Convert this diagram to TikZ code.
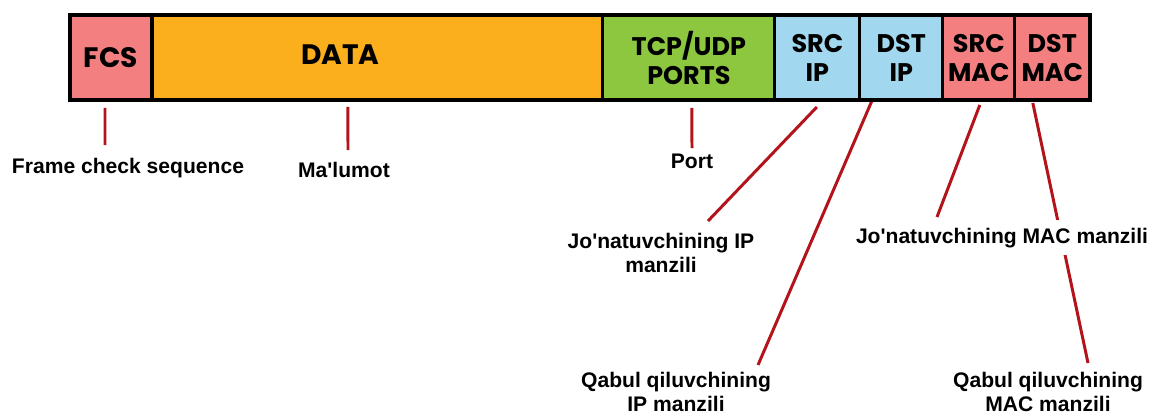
\documentclass[tikz,border=0pt]{standalone}
\usepackage[dvipsnames]{xcolor}
\usepackage{fontspec}
\setmainfont{Liberation Sans}
\newfontfamily\cellfont{Poppins}
\usepackage{tikz}
\usetikzlibrary{positioning,calc,backgrounds}

\definecolor{fcspink}{HTML}{F47F80}
\definecolor{dataorange}{HTML}{FBAF1C}
\definecolor{portgreen}{HTML}{8DC63F}
\definecolor{ipblue}{HTML}{A1D7EF}
\definecolor{wirered}{HTML}{B3141C}

\tikzset{
  fieldtxt/.style={font=\cellfont\bfseries\fontsize{14.5}{16.5}\selectfont},
  bigtxt/.style={font=\cellfont\bfseries\fontsize{16}{19}\selectfont},
  field/.style={draw=black, line width=1.8pt, minimum height=1.7cm,
    outer sep=0pt, inner sep=0pt, align=center, fieldtxt},
  desc/.style={anchor=base, align=center, inner sep=2pt,
    font=\bfseries\fontsize{12}{13.6}\selectfont},
  wire/.style={draw=wirered, line width=1.7pt}
}

\begin{document}
\begin{tikzpicture}[x=0.02cm, y=-0.02cm]
  \useasboundingbox (0,0) rectangle (1152,416);

  \node[field, bigtxt, fill=fcspink, minimum width=1.64cm, anchor=west] (fcs) at (70,57.5) {FCS};
  \node[field, fill=dataorange, minimum width=9.02cm, right=0pt of fcs,
    label={[name=datatxt, bigtxt, xshift=-0.74cm, yshift=0.05cm]center:DATA}] (data) {};
  \node[field, fill=portgreen, minimum width=3.44cm, right=0pt of data] (ports) {TCP/UDP\\PORTS};
  \node[field, fill=ipblue, minimum width=1.7cm, right=0pt of ports] (srcip) {SRC\\IP};
  \node[field, fill=ipblue, minimum width=1.66cm, right=0pt of srcip] (dstip) {DST\\IP};
  \node[field, fill=fcspink, minimum width=1.44cm, right=0pt of dstip] (srcmac) {SRC\\MAC};
  \node[field, fill=fcspink, minimum width=1.5cm, right=0pt of srcmac] (dstmac) {DST\\MAC};
  \draw[line width=2.4pt] (fcs.north west) rectangle (dstmac.south east);

  \node[desc] (fcsl) at (128,173) {Frame check sequence};
  \node[desc] (datal) at (344,177) {Ma\textquotesingle lumot};
  \node[desc] (portl) at (692,168) {Port};
  \node[desc] (jipl) at (661,272) {Jo\textquotesingle natuvchining IP\\manzili};
  \node[desc] (qipl) at (676,411) {Qabul qiluvchining\\IP manzili};
  \node[desc, fill=white, inner ysep=0.15cm] (jmacl) at (1002,243) {Jo\textquotesingle natuvchining MAC manzili};
  \node[desc] (qmacl) at (1048,411) {Qabul qiluvchining\\MAC manzili};

  \begin{scope}[on background layer]
    \draw[wire] ($(fcs.south)+(-6,8)$) -- ($(fcsl.base)+(-23,-28)$);
    \draw[wire] ($(data.south)+(-29.5,7)$) -- ($(datal.base)+(4,-27)$);
    \draw[wire] ($(ports.south)+(3,8)$) -- ($(portl.base)+(0,-20)$);
    \draw[wire] ($(srcip.south)+(-0.5,7)$) -- ($(jipl.base)+(47,-51)$);
    \draw[wire] ($(dstip.south)+(-29.5,1)$) -- ($(qipl.base)+(82,-46)$);
    \draw[wire] ($(srcmac.south)+(1,5)$) -- ($(jmacl.base)+(-65,-26)$);
    \draw[wire] ($(dstmac.south)+(-19.5,3)$) -- ($(qmacl.base)+(40,-48)$);
  \end{scope}
\end{tikzpicture}
\end{document}
